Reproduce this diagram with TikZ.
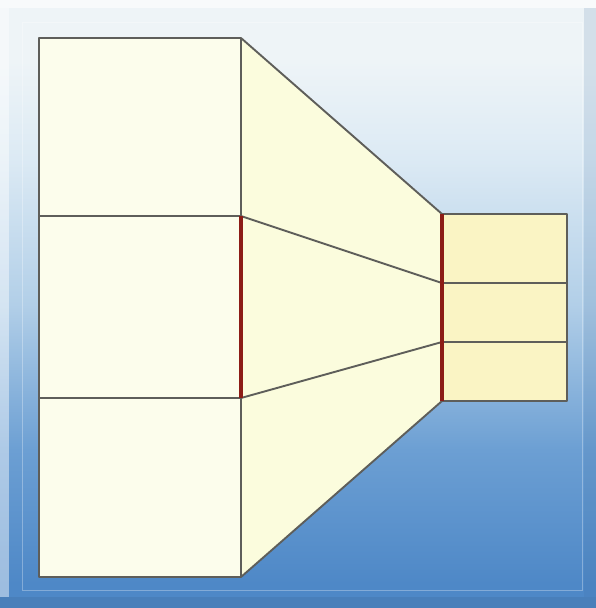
\documentclass[tikz,border=0pt]{standalone}
\usetikzlibrary{calc}
\definecolor{LineGray}{HTML}{5E5E5A}
\definecolor{SeamRed}{HTML}{8C1C16}
\definecolor{PaleCream}{HTML}{FCFDEC}
\definecolor{MidCream}{HTML}{FBFCDD}
\definecolor{DeepCream}{HTML}{FAF4C4}
\definecolor{SkyA}{HTML}{EEF4F7}
\definecolor{SkyB}{HTML}{DCEAF4}
\definecolor{SkyC}{HTML}{B2CFE8}
\definecolor{SkyD}{HTML}{6C9FD3}
\definecolor{SkyE}{HTML}{4E88C7}
\pgfdeclareverticalshading{skyfade}{100bp}{color(0bp)=(SkyE); color(27bp)=(SkyE); color(38bp)=(SkyD); color(50bp)=(SkyC); color(62bp)=(SkyB); color(70bp)=(SkyA); color(100bp)=(SkyA)}
\tikzset{wall/.style={draw=LineGray,line width=1.9pt,line join=round},
  seam/.style={draw=SeamRed,line width=4pt}}

\begin{document}
\begin{tikzpicture}[x=1pt,y=-1pt]
\useasboundingbox (0,0) rectangle (596,608);
% backdrop with a bevelled frame
\fill[shading=skyfade] (0,0) rectangle (596,608);
\fill[SkyE!80!black,opacity=.3] (0,597) rectangle (596,608);\fill[SkyE!80!black,opacity=.15] (584,8) rectangle (596,597);
\fill[white,opacity=.6] (0,0) rectangle (596,8);\fill[white,opacity=.45] (0,8) rectangle (9,597);
\draw[white,opacity=.3,line width=1pt] (22,22) rectangle (582,590);
% corners of the three parts
\coordinate (LT) at (39,38);\coordinate (MT) at (241,38);\coordinate (M1) at (241,216);\coordinate (M2) at (241,398);
\coordinate (MB) at (241,577);\coordinate (LB) at (39,577);\coordinate (L1) at (39,216);\coordinate (L2) at (39,398);
\coordinate (RT) at (442,214);\coordinate (R1) at (442,283);\coordinate (R2) at (442,342);\coordinate (RB) at (442,401);
\coordinate (ET) at (567,214);\coordinate (E1) at (567,283);\coordinate (E2) at (567,342);\coordinate (EB) at (567,401);
% fills
\fill[PaleCream] (LT) rectangle (MB);
\fill[MidCream] (MT)--(RT)--(RB)--(MB)--cycle;
\fill[DeepCream] (RT) rectangle (EB);
% outlines
\draw[wall] (LT) rectangle (MB);\draw[wall] (L1)--(M1);\draw[wall] (L2)--(M2);
\draw[wall] (MT)--(RT);\draw[wall] (MB)--(RB);\draw[wall] (M1)--(R1);\draw[wall] (M2)--(R2);
\draw[wall] (RT) rectangle (EB);\draw[wall] (R1)--(E1);\draw[wall] (R2)--(E2);
\draw[seam] (M1)--(M2);\draw[seam] (RT)--(RB);
\end{tikzpicture}
\end{document}
